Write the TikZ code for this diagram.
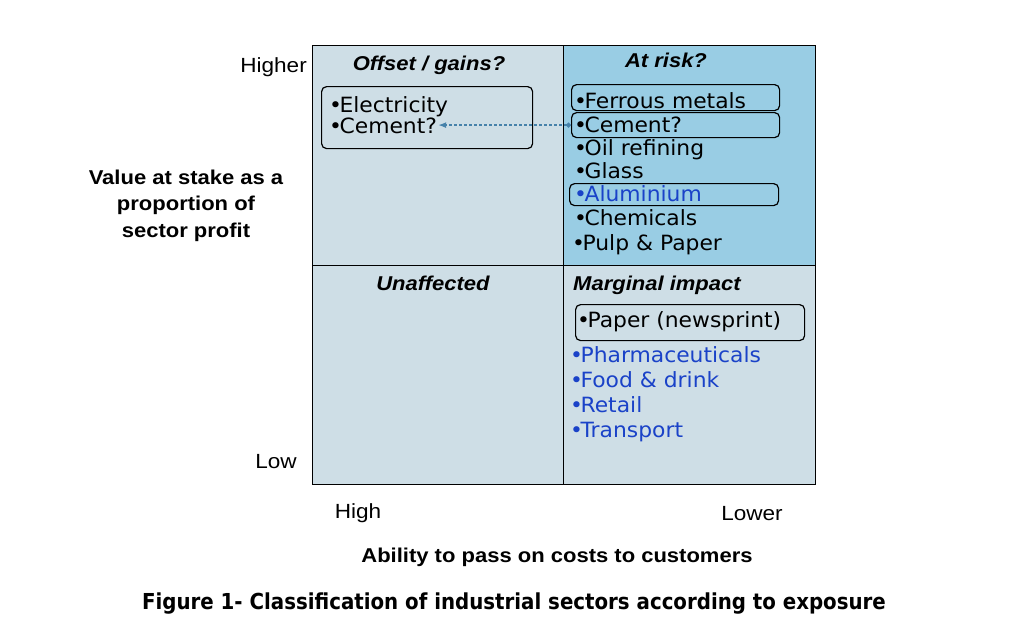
\documentclass[tikz,border=0pt]{standalone}
\usepackage{fontspec}
\setmainfont{DejaVu Sans}
\newfontfamily\itemf[FakeStretch=1.04]{DejaVu Sans}
\newfontfamily\arialf[FakeStretch=1.1]{Liberation Sans}
\newfontfamily\capf{DejaVu Sans Condensed}
\usetikzlibrary{arrows.meta}
\definecolor{qpale}{RGB}{206,222,230}
\definecolor{qblue}{RGB}{153,205,228}
\definecolor{itemblue}{RGB}{26,66,200}
\definecolor{arrowc}{RGB}{70,130,170}
\newcommand\itemfnt{\itemf\fontsize{21}{24}\selectfont}
\newcommand\hdfnt{\arialf\bfseries\itshape\fontsize{20}{24}\selectfont}
\newcommand\axfnt{\arialf\fontsize{20.5}{24}\selectfont}
\newcommand\ttlfnt{\arialf\bfseries\fontsize{20}{24}\selectfont}
\newcommand\capfnt{\capf\bfseries\fontsize{22}{26}\selectfont}
\newcommand\bul{•\kern-2.5pt}
\begin{document}
\begin{tikzpicture}[x=1pt,y=-1pt,
  quad/.style={draw=black, line width=1.3pt, anchor=north west, inner sep=0pt},
  rbox/.style={draw=black, rounded corners=5pt, line width=1.2pt, anchor=north west, inner sep=0pt},
  item/.style={font=\itemfnt, anchor=base west, inner sep=0pt},
  bitem/.style={item, text=itemblue},
  head/.style={font=\hdfnt, inner sep=0pt},
  axl/.style={font=\axfnt, inner sep=0pt},
  ttl/.style={font=\ttlfnt, inner sep=0pt, anchor=base},
  link/.style={draw=arrowc, line width=1.4pt, dashed, dash pattern=on 3pt off 2pt}]
\useasboundingbox (0,0) rectangle (1024,635);
\fill[white] (0,0) rectangle (1024,635);
% quadrants
\node[quad, fill=qpale, minimum width=251pt, minimum height=220pt] (qTL) at (312,45) {};
\node[quad, fill=qblue, minimum width=252pt, minimum height=220pt] (qTR) at (563,45) {};
\node[quad, fill=qpale, minimum width=251pt, minimum height=219pt] (qBL) at (312,265) {};
\node[quad, fill=qpale, minimum width=252pt, minimum height=219pt] (qBR) at (563,265) {};
% headings
\node[head, anchor=base] (hTL) at (429,70) {Offset / gains?};
\node[head, anchor=base] (hTR) at (666,67) {At risk?};
\node[head, anchor=base] (hBL) at (433,290) {Unaffected};
\node[head, anchor=base west] (hBR) at (573,290) {Marginal impact};
% boxes
\node[rbox, minimum width=211pt, minimum height=62pt] (boxL) at (321,86) {};
\node[rbox, minimum width=208pt, minimum height=26pt] (boxFe) at (571,84) {};
\node[rbox, minimum width=208pt, minimum height=25pt] (boxCe) at (571,112) {};
\node[rbox, minimum width=209pt, minimum height=22pt] (boxAl) at (569,183) {};
\node[rbox, minimum width=229pt, minimum height=36pt] (boxPa) at (575,304) {};
% left items
\node[item] (elec) at (329,112) {\bul Electricity};
\node[item] (cemL) at (329,133) {\bul Cement?};
% at risk items
\node[item] (fe) at (574,108) {\bul Ferrous metals};
\node[item] (cemR) at (574,132) {\bul Cement?};
\node[item] (oil) at (574,155) {\bul Oil refining};
\node[item] (gla) at (574,178) {\bul Glass};
\node[bitem] (alu) at (574,201) {\bul Aluminium};
\node[item] (che) at (574,225) {\bul Chemicals};
\node[item] (pul) at (572,250) {\bul Pulp \& Paper};
% marginal items
\node[item] (pap) at (577,327) {\bul Paper (newsprint)};
\node[bitem] (pha) at (570,362) {\bul Pharmaceuticals};
\node[bitem] (foo) at (570,387) {\bul Food \& drink};
\node[bitem] (ret) at (570,412) {\bul Retail};
\node[bitem] (tra) at (570,437) {\bul Transport};
% link
\draw[link, {Circle[length=5pt]}-{Latex[length=8pt,width=6pt]}, shorten >=1pt] (boxCe.west) -- (cemL.east |- boxCe.west);
% axis labels
\node[axl, anchor=base east] (higher) at (307,72) {Higher};
\node[axl, anchor=base] (low) at (276,468) {Low};
\node[axl, anchor=base] (high) at (358,518) {High};
\node[axl, anchor=base] (lower) at (752,520) {Lower};
\node[ttl] (v1) at (186,184) {Value at stake as a};
\node[ttl] (v2) at (186,210) {proportion of};
\node[ttl] (v3) at (186,237) {sector profit};
\node[ttl] (abil) at (557,562) {Ability to pass on costs to customers};
\node[font=\capfnt, inner sep=0pt, anchor=base] (cap) at (514,609) {Figure 1- Classification of industrial sectors according to exposure};
\end{tikzpicture}
\end{document}
